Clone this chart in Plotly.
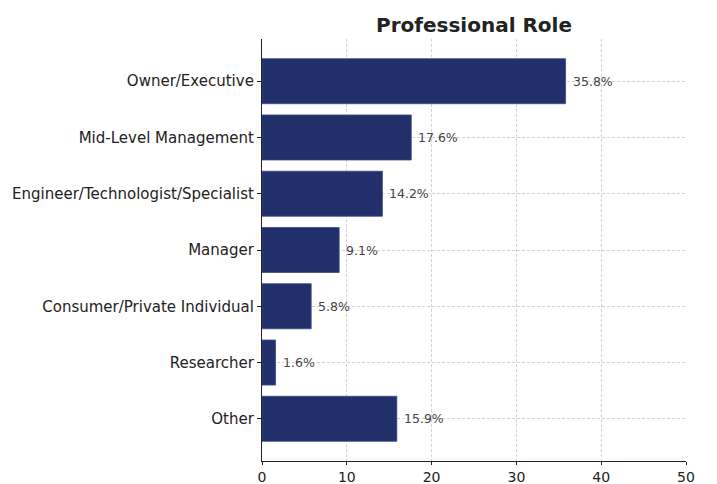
import plotly.graph_objects as go

categories = ["Owner/Executive", "Mid-Level Management", "Engineer/Technologist/Specialist",
              "Manager", "Consumer/Private Individual", "Researcher", "Other"]
values = [35.8, 17.6, 14.2, 9.1, 5.8, 1.6, 15.9]
x_ticks = [0, 10, 20, 30, 40, 50]

bar_color = "#21306a"
font_family = "DejaVu Sans"

fig = go.Figure()
fig.add_trace(go.Bar(
    y=categories, x=values, orientation="h", width=0.8,
    marker=dict(color=bar_color, line=dict(color="#3a4a85", width=0.8)),
    hoverinfo="skip",
))
for c, v in zip(categories, values):
    fig.add_annotation(x=v, y=c, text=f"{v}%", xanchor="left", yanchor="middle",
                       xshift=5, showarrow=False,
                       font=dict(family=font_family, size=12.5, color="#444444"))

fig.update_layout(
    width=717, height=484,
    margin=dict(l=262, r=31, t=39, b=23),
    paper_bgcolor="white", plot_bgcolor="white",
    showlegend=False,
    title=dict(text="<b>Professional Role</b>", x=474 / 717, xanchor="center",
               y=1 - 25 / 484, yanchor="middle",
               font=dict(family=font_family, size=20, color="#222222")),
    font=dict(family=font_family, color="#222222"),
)
grid = dict(showgrid=True, gridcolor="#d3d3d3", griddash="3px,2px", gridwidth=0.8)
fig.update_xaxes(range=[0, 50], tickvals=x_ticks, **grid,
                 showline=True, linecolor="#222222", linewidth=1.2,
                 ticks="outside", ticklen=3, tickcolor="#222222",
                 tickfont=dict(size=14, color="#222222"), zeroline=False, automargin=False)
fig.update_yaxes(categoryorder="array", categoryarray=categories, autorange=False,
                 range=[6.75, -0.75], **grid,
                 showline=True, linecolor="#222222", linewidth=1.2, ticks="outside", ticklen=4,
                 tickcolor="#222222", tickfont=dict(size=15, color="#222222"), zeroline=False,
                 automargin=False)

fig.write_html("out.html", config={"displayModeBar": False},
               post_script="document.body.style.margin='0';document.body.style.padding='0';")
